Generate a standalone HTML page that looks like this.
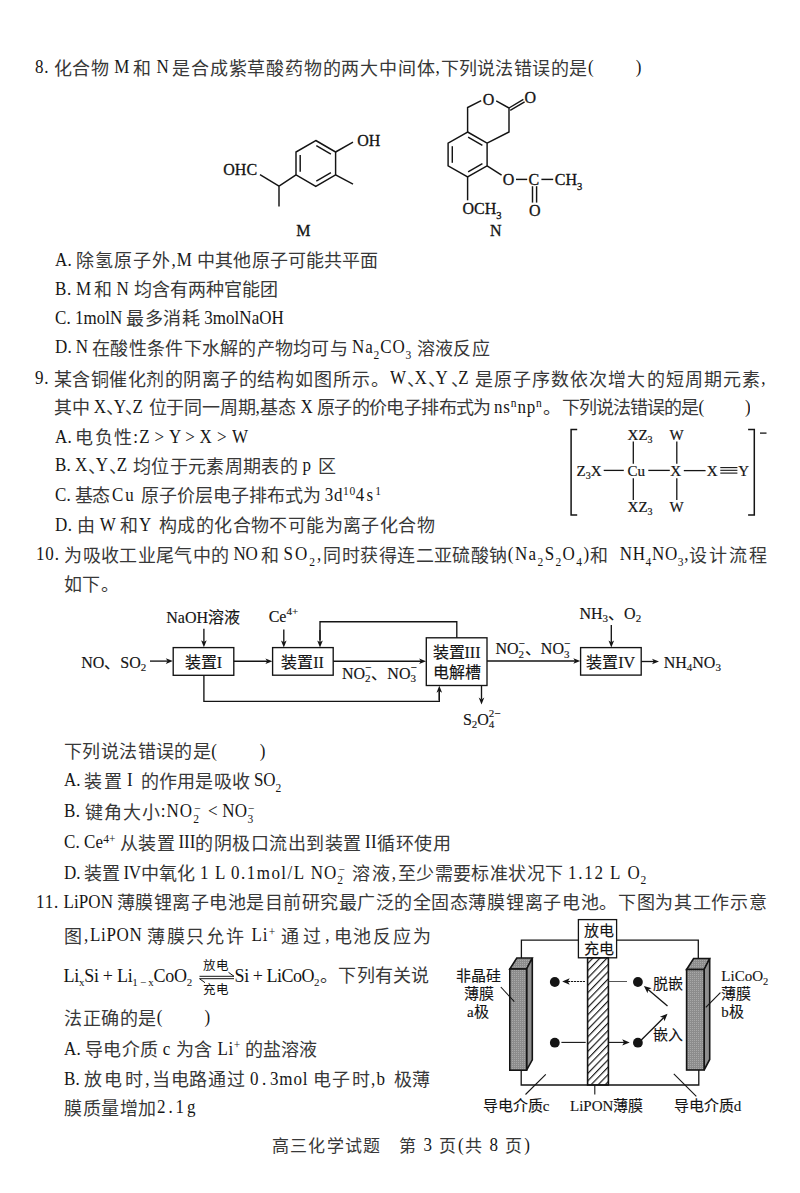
<!DOCTYPE html>
<html lang="zh-CN">
<head>
<meta charset="utf-8">
<style>
html,body{margin:0;padding:0;background:#fff;}
body{width:800px;height:1193px;position:relative;overflow:hidden;font-family:"Liberation Serif",serif;color:#383838;}
.t{position:absolute;white-space:nowrap;font-size:18px;line-height:20px;word-spacing:-0.8px;margin-top:-15.0px;}
.l{font-size:17.0px;position:relative;top:-1.5px;color:#161616;display:inline-block;line-height:20px;transform:scaleY(1.12);transform-origin:0 15.74px;}
sub,sup{color:#161616;}
.ss{margin-left:-5.6px;margin-right:1.5px;}
.d{letter-spacing:-10.5px;}
.rn{margin:0 0 0 3px;}
sub,sup{font-size:11.5px;line-height:0;position:relative;vertical-align:baseline;}
sub{top:4px;}
sup{top:-7px;}
svg{position:absolute;left:0;top:0;}
</style>
</head>
<body>
<div class="t" style="left:35px;top:73.5px;"><span class="sg" style="letter-spacing:0.741px"><span class="l">8.</span> 化合物 </span><span class="sg" style="letter-spacing:-0.064px"><span class="l">M</span> </span><span class="sg" style="letter-spacing:0.873px">和 </span><span class="sg" style="letter-spacing:-0.092px"><span class="l">N</span> </span><span class="sg" style="letter-spacing:0.810px">是合成紫草酸药物的两大中间体<span class="l">,</span></span><span class="sg" style="letter-spacing:0.275px">下列说法</span><span class="sg" style="letter-spacing:0.580px">错误的是<span class="l">(</span><span class="gap" style="display:inline-block;width:41.50px"></span><span class="l">)</span></span></div>
<div class="t" style="left:55px;top:266.4px;"><span class="sg" style="letter-spacing:0.219px"><span class="l">A.</span> </span><span class="sg" style="letter-spacing:1.114px">除氢原子外<span class="l">,</span></span><span class="sg" style="letter-spacing:0.811px"><span class="l">M</span> </span><span class="sg" style="letter-spacing:0.121px">中其他原子可能共平面</span></div>
<div class="t" style="left:55px;top:295.3px;"><span class="sg" style="letter-spacing:0.630px"><span class="l">B.</span> </span><span class="sg" style="letter-spacing:-0.368px"><span class="l">M</span> </span><span class="sg" style="letter-spacing:0.248px">和 </span><span class="sg" style="letter-spacing:1.033px"><span class="l">N</span> </span><span class="sg" style="letter-spacing:-0.023px">均含有两种官能团</span></div>
<div class="t" style="left:55px;top:324.2px;"><span class="sg" style="letter-spacing:0.229px"><span class="l">C.</span> </span><span class="sg" style="letter-spacing:0.061px"><span class="l">1molN</span> </span><span class="sg" style="letter-spacing:0.469px">最多消耗 </span><span class="sg" style="letter-spacing:0.046px"><span class="l">3molNaOH</span></span></div>
<div class="t" style="left:55px;top:353.6px;"><span class="sg" style="letter-spacing:0.203px"><span class="l">D.</span> </span><span class="sg" style="letter-spacing:0.179px"><span class="l">N</span> </span><span class="sg" style="letter-spacing:0.280px">在酸性条件下水解的产物均可与 </span><span class="sg" style="letter-spacing:0.862px"><span class="l">Na</span><sub>2</sub><span class="l">CO</span><sub>3</sub> </span><span class="sg" style="letter-spacing:0.299px">溶液反应</span></div>
<div class="t" style="left:35px;top:384.5px;"><span class="sg" style="letter-spacing:0.776px"><span class="l">9.</span> </span><span class="sg" style="letter-spacing:0.491px">某含铜催化剂的阴离子的</span><span class="sg" style="letter-spacing:0.984px">结构如图所示。</span><span class="sg" style="letter-spacing:0.953px"><span class="l">W</span><span class="d">、</span></span><span class="sg" style="letter-spacing:1.219px"><span class="l">X</span><span class="d">、</span></span><span class="sg" style="letter-spacing:2.969px"><span class="l">Y</span><span class="d">、</span></span><span class="sg" style="letter-spacing:1.124px"><span class="l">Z</span> </span><span class="sg" style="letter-spacing:1.103px">是原子序数依次增大的短周期元素<span class="l">,</span></span></div>
<div class="t" style="left:54px;top:413.4px;"><span class="sg" style="letter-spacing:-0.005px">其中 </span><span class="sg" style="letter-spacing:0.313px"><span class="l">X</span><span class="d">、</span></span><span class="sg" style="letter-spacing:-0.985px"><span class="l">Y</span><span class="d">、</span></span><span class="sg" style="letter-spacing:0.999px"><span class="l">Z</span> </span><span class="sg" style="letter-spacing:-0.195px">位于同一周期<span class="l">,</span></span><span class="sg" style="letter-spacing:0.365px">基态 </span><span class="sg" style="letter-spacing:0.158px"><span class="l">X</span> </span><span class="sg" style="letter-spacing:-0.583px">原子的价电子排布式为 </span><span class="sg" style="letter-spacing:0.849px"><span class="l">ns</span><sup>n</sup><span class="l">np</span><sup>n</sup>。</span><span class="sg" style="letter-spacing:-0.891px">下列说法错误的是<span class="l">(</span><span class="gap" style="display:inline-block;width:41.77px"></span><span class="l">)</span></span></div>
<div class="t" style="left:55px;top:443px;"><span class="sg" style="letter-spacing:0.099px"><span class="l">A.</span> </span><span class="sg" style="letter-spacing:1.266px">电负性<span class="l">:</span></span><span class="sg" style="letter-spacing:0.656px"><span class="l">Z &gt;</span> </span><span class="sg" style="letter-spacing:0.552px"><span class="l">Y &gt;</span> </span><span class="sg" style="letter-spacing:0.842px"><span class="l">X &gt;</span> </span><span class="sg" style="letter-spacing:0.500px"><span class="l">W</span></span></div>
<div class="t" style="left:55px;top:471.7px;"><span class="sg" style="letter-spacing:0.229px"><span class="l">B.</span> </span><span class="sg" style="letter-spacing:1.153px"><span class="l">X</span><span class="d">、</span><span class="l">Y</span><span class="d">、</span><span class="l">Z</span> </span><span class="sg" style="letter-spacing:0.325px">均位于元素周期表</span><span class="sg" style="letter-spacing:0.498px">的 </span><span class="sg" style="letter-spacing:1.615px"><span class="l">p</span> </span><span class="sg" style="letter-spacing:0.500px">区</span></div>
<div class="t" style="left:55px;top:501.3px;"><span class="sg" style="letter-spacing:0.245px"><span class="l">C.</span> </span><span class="sg" style="letter-spacing:-0.885px">基态 </span><span class="sg" style="letter-spacing:1.964px"><span class="l">Cu</span> </span><span class="sg" style="letter-spacing:-0.032px">原子价层电子排布式为 </span><span class="sg" style="letter-spacing:0.608px"><span class="l">3d</span><sup>10</sup></span><span class="sg" style="letter-spacing:2.183px"><span class="l">4s</span><sup>1</sup></span></div>
<div class="t" style="left:55px;top:531.4px;"><span class="sg" style="letter-spacing:0.521px"><span class="l">D.</span> </span><span class="sg" style="letter-spacing:0.673px">由 </span><span class="sg" style="letter-spacing:0.039px"><span class="l">W</span> </span><span class="sg" style="letter-spacing:-1.102px">和 </span><span class="sg" style="letter-spacing:1.929px"><span class="l">Y</span> </span><span class="sg" style="letter-spacing:0.400px">构成的化合物不可能为离子化合物</span></div>
<div class="t" style="left:36px;top:560.6px;"><span class="sg" style="letter-spacing:0.831px"><span class="l">10.</span> </span><span class="sg" style="letter-spacing:0.359px">为吸收工业尾气中的 </span><span class="sg" style="letter-spacing:-0.156px"><span class="l">NO</span> </span><span class="sg" style="letter-spacing:0.248px">和 </span><span class="sg" style="letter-spacing:1.983px"><span class="l">SO</span><sub>2</sub><span class="l">,</span></span><span class="sg" style="letter-spacing:0.470px">同时获得连二亚硫酸钠</span><span class="sg" style="letter-spacing:1.379px"><span class="l">(Na</span><sub>2</sub><span class="l">S</span><sub>2</sub><span class="l">O</span><sub>4</sub><span class="l">)</span></span><span class="sg" style="letter-spacing:3.773px">和 </span><span class="sg" style="letter-spacing:0.652px"><span class="l">NH</span><sub>4</sub><span class="l">NO</span><sub>3</sub><span class="l">,</span></span><span class="sg" style="letter-spacing:2.030px">设计流程</span></div>
<div class="t" style="left:64px;top:590px;"><span class="sg" style="letter-spacing:0.397px">如下。</span></div>
<div class="t" style="left:64px;top:757px;"><span class="sg" style="letter-spacing:0.402px">下列说法错误的是<span class="l">(</span><span class="gap" style="display:inline-block;width:42.52px"></span><span class="l">)</span></span></div>
<div class="t" style="left:64px;top:786.7px;"><span class="sg" style="letter-spacing:-0.151px"><span class="l">A.</span> </span><span class="sg" style="letter-spacing:2.092px">装置</span><span class="sg" style="letter-spacing:8.031px"><span class="l rn">I</span></span><span class="sg" style="letter-spacing:0.242px">的作用是吸收 </span><span class="sg" style="letter-spacing:-0.175px"><span class="l">SO</span><sub>2</sub></span></div>
<div class="t" style="left:64px;top:817.7px;"><span class="sg" style="letter-spacing:0.464px"><span class="l">B.</span> </span><span class="sg" style="letter-spacing:1.032px">键角大小<span class="l">:</span></span><span class="sg" style="letter-spacing:1.034px"><span class="l">NO</span><sub>2</sub><sup class="ss">−</sup> </span><span class="sg" style="letter-spacing:0.352px"><span class="l">&lt;</span> </span><span class="sg" style="letter-spacing:0.362px"><span class="l">NO</span><sub>3</sub><sup class="ss">−</sup></span></div>
<div class="t" style="left:64px;top:848.9px;"><span class="sg" style="letter-spacing:0.266px"><span class="l">C.</span> </span><span class="sg" style="letter-spacing:0.152px"><span class="l">Ce</span><sup>4+</sup> </span><span class="sg" style="letter-spacing:0.630px">从装置</span><span class="sg" style="letter-spacing:-0.062px"><span class="l rn">III</span></span><span class="sg" style="letter-spacing:0.511px">的阴极口流出到装置<span class="l rn">II</span>循环使用</span></div>
<div class="t" style="left:64px;top:879px;"><span class="sg" style="letter-spacing:-0.151px"><span class="l">D.</span> </span><span class="sg" style="letter-spacing:0.342px">装置</span><span class="sg" style="letter-spacing:-0.377px"><span class="l rn">IV</span></span><span class="sg" style="letter-spacing:0.449px">中氧化 </span><span class="sg" style="letter-spacing:1.398px"><span class="l">1</span> </span><span class="sg" style="letter-spacing:0.953px"><span class="l">L</span> </span><span class="sg" style="letter-spacing:1.459px"><span class="l">0.1mol/L</span> </span><span class="sg" style="letter-spacing:1.027px"><span class="l">NO</span><sub>2</sub><sup class="ss">−</sup> </span><span class="sg" style="letter-spacing:1.750px">溶液<span class="l">,</span></span><span class="sg" style="letter-spacing:0.411px">至少需要标准状况</span><span class="sg" style="letter-spacing:0.648px">下 </span><span class="sg" style="letter-spacing:1.709px"><span class="l">1.12</span> </span><span class="sg" style="letter-spacing:1.703px"><span class="l">L</span> </span><span class="sg" style="letter-spacing:0.500px"><span class="l">O</span><sub>2</sub></span></div>
<div class="t" style="left:36px;top:908px;"><span class="sg" style="letter-spacing:0.841px"><span class="l">11.</span> </span><span class="sg" style="letter-spacing:0.046px"><span class="l">LiPON</span> </span><span class="sg" style="letter-spacing:0.513px">薄膜锂离子电池是目前研究最广泛的全固态</span><span class="sg" style="letter-spacing:0.690px">薄膜锂离子电池。下图为其工作示意</span></div>
<div class="t" style="left:64px;top:941.9px;"><span class="sg" style="letter-spacing:1.921px">图<span class="l">,</span></span><span class="sg" style="letter-spacing:0.627px"><span class="l">LiPON</span> </span><span class="sg" style="letter-spacing:1.832px">薄膜只允许 </span><span class="sg" style="letter-spacing:1.097px"><span class="l">Li</span><sup>+</sup> </span><span class="sg" style="letter-spacing:4.083px">通过<span class="l">,</span></span><span class="sg" style="letter-spacing:1.800px">电池反应为</span></div>
<div class="t" style="left:64px;top:1023.5px;"><span class="sg" style="letter-spacing:0.564px">法正确的是<span class="l">(</span><span class="gap" style="display:inline-block;width:41.36px"></span><span class="l">)</span></span></div>
<div class="t" style="left:64px;top:1055px;"><span class="sg" style="letter-spacing:0.151px"><span class="l">A.</span> </span><span class="sg" style="letter-spacing:0.488px">导电介质 </span><span class="sg" style="letter-spacing:0.788px"><span class="l">c</span> </span><span class="sg" style="letter-spacing:0.729px">为含 </span><span class="sg" style="letter-spacing:0.597px"><span class="l">Li</span><sup>+</sup> </span><span class="sg" style="letter-spacing:-0.138px">的盐溶液</span></div>
<div class="t" style="left:64px;top:1085px;"><span class="sg" style="letter-spacing:0.162px"><span class="l">B.</span> </span><span class="sg" style="letter-spacing:2.500px">放电时<span class="l">,</span></span><span class="sg" style="letter-spacing:0.707px">当电路通过 </span><span class="sg" style="letter-spacing:3.671px"><span class="l">0.</span></span><span class="sg" style="letter-spacing:0.848px"><span class="l">3mol</span> </span><span class="sg" style="letter-spacing:1.334px">电子时<span class="l">,</span></span><span class="sg" style="letter-spacing:2.490px"><span class="l">b</span> </span><span class="sg" style="letter-spacing:0.391px">极</span><span class="sg" style="letter-spacing:0.500px">薄</span></div>
<div class="t" style="left:64px;top:1113.7px;"><span class="sg" style="letter-spacing:0.600px">膜质量增加</span><span class="sg" style="letter-spacing:2.882px"><span class="l">2.1g</span></span></div>
<div class="t" style="left:272px;top:1152.2px;font-size:17px"><span class="sg" style="letter-spacing:1.171px">高三化学试题　</span><span class="sg" style="letter-spacing:1.855px">第 <span class="l">3</span> 页<span class="l">(</span>共 <span class="l">8</span> 页<span class="l">)</span></span></div>
<svg width="800" height="1193" viewBox="0 0 800 1193" style="font-family:'Liberation Serif',serif">
<g stroke="#141414" stroke-width="1.45" fill="none" stroke-linecap="butt">
<!-- M -->
<polygon points="315.8,140.5 335.6,152 335.6,174.8 315.8,186.3 296,174.8 296,152"/>
<line x1="316.3" y1="145.6" x2="330.9" y2="154.1"/>
<line x1="300.2" y1="171.8" x2="300.2" y2="155"/>
<line x1="330.9" y1="172.7" x2="316.3" y2="181.2"/>
<line x1="335.6" y1="152" x2="353" y2="142.2"/>
<line x1="335.6" y1="174.8" x2="353" y2="184.2"/>
<polyline points="296,174.8 279,186.2 279,206.5"/>
<line x1="279" y1="186.2" x2="260" y2="174.6"/>
<!-- N -->
<polygon points="467.6,132 487.1,143.2 487.1,165.8 467.6,177 448.1,165.8 448.1,143.2"/>
<line x1="468.1" y1="137.1" x2="482.4" y2="145.4"/>
<line x1="452.3" y1="162.8" x2="452.3" y2="146.2"/>
<line x1="482.4" y1="163.6" x2="468.1" y2="171.9"/>
<polyline points="467.6,132 467.6,107.5 481.2,100.6"/>
<polyline points="496.2,100.9 509,108 509,132 487.1,143.2"/>
<line x1="509" y1="108" x2="523.4" y2="99.4"/>
<line x1="510.2" y1="110.3" x2="524.6" y2="101.9"/>
<line x1="487.1" y1="165.8" x2="501.6" y2="175.2"/>
<line x1="516" y1="179.4" x2="527.2" y2="179.4"/>
<line x1="541.4" y1="179.4" x2="553.2" y2="179.4"/>
<line x1="532.5" y1="186.2" x2="532.5" y2="202.6"/>
<line x1="536.6" y1="186.2" x2="536.6" y2="202.6"/>
<line x1="467.6" y1="177" x2="467.6" y2="200.3"/>
</g>
<g fill="#141414" font-size="16" stroke="#141414" stroke-width="0.3">
<text x="223.3" y="174.9">OHC</text>
<text x="357.3" y="145.6">OH</text>
<text x="296.2" y="235.6">M</text>
<text x="482.8" y="104.6">O</text>
<text x="524.6" y="102.6">O</text>
<text x="502.7" y="184.8">O</text>
<text x="528.5" y="184.8">C</text>
<text x="554.8" y="184.8">CH<tspan font-size="10.5" dy="5">3</tspan></text>
<text x="529" y="215.8">O</text>
<text x="462.5" y="214.4">OCH<tspan font-size="10.5" dy="5">3</tspan></text>
<text x="490" y="235.7">N</text>
</g>


<g stroke="#141414" stroke-width="1.3" fill="none">
<path d="M577.2,429.6 H571.1 V514.9 H577.2" stroke-width="1.5"/>
<path d="M748.1,429.4 H754.3 V514.9 H748.1" stroke-width="1.5"/>
<line x1="760.00" y1="433.10" x2="766.50" y2="433.10"/>
<line x1="603.70" y1="470.40" x2="623.80" y2="470.40"/>
<line x1="648.30" y1="470.40" x2="669.80" y2="470.40"/>
<line x1="683.80" y1="470.60" x2="705.60" y2="470.60"/>
<line x1="720.30" y1="467.60" x2="737.40" y2="467.60" stroke-width="1.1"/>
<line x1="720.30" y1="470.30" x2="737.40" y2="470.30" stroke-width="1.1"/>
<line x1="720.30" y1="473.10" x2="737.40" y2="473.10" stroke-width="1.1"/>
<line x1="633.30" y1="441.50" x2="633.30" y2="463.70"/>
<line x1="633.30" y1="478.30" x2="633.30" y2="500.00"/>
<line x1="676.80" y1="441.50" x2="676.80" y2="463.70"/>
<line x1="676.80" y1="478.30" x2="676.80" y2="500.00"/>
</g>
<g fill="#141414" font-size="15" stroke="#141414" stroke-width="0.2">
<text x="627.6" y="439.8">XZ<tspan font-size="10" dy="3">3</tspan></text>
<text x="669.6" y="439.8">W</text>
<text x="576.6" y="475.7">Z<tspan font-size="10" dy="3">3</tspan><tspan dy="-3">X</tspan></text>
<text x="627.6" y="475.7">Cu</text>
<text x="670.3" y="475.7">X</text>
<text x="706.8" y="475.7">X</text>
<text x="738.3" y="475.7">Y</text>
<text x="627.6" y="511.7">XZ<tspan font-size="10" dy="3">3</tspan></text>
<text x="669.6" y="511.7">W</text>
</g>
<g stroke="#141414" stroke-width="1.35" fill="none">
<rect x="173.2" y="647.6" width="60.6" height="27.7"/>
<rect x="272.6" y="647.6" width="60.6" height="27.6"/>
<rect x="426.3" y="637.8" width="60.7" height="47.7"/>
<rect x="580.6" y="647.6" width="60.6" height="27.5"/>
<polyline points="203.9,675.3 203.9,701.3 439.3,701.3 439.3,692"/>
<polyline points="320,640 320,621.7 456.8,621.7 456.8,637.8"/>
</g>
<line x1="203.90" y1="628.80" x2="203.90" y2="642.30" stroke="#141414" stroke-width="1.35"/><path d="M203.90,647.30 L201.10,640.30 L203.90,642.10 L206.70,640.30 Z" fill="#141414" stroke="none"/>
<line x1="150.00" y1="661.10" x2="167.80" y2="661.10" stroke="#141414" stroke-width="1.35"/><path d="M172.80,661.10 L165.80,663.90 L167.60,661.10 L165.80,658.30 Z" fill="#141414" stroke="none"/>
<line x1="233.80" y1="661.20" x2="267.40" y2="661.20" stroke="#141414" stroke-width="1.35"/><path d="M272.40,661.20 L265.40,664.00 L267.20,661.20 L265.40,658.40 Z" fill="#141414" stroke="none"/>
<line x1="283.80" y1="629.50" x2="283.80" y2="642.40" stroke="#141414" stroke-width="1.35"/><path d="M283.80,647.40 L281.00,640.40 L283.80,642.20 L286.60,640.40 Z" fill="#141414" stroke="none"/>
<line x1="320.00" y1="630.00" x2="320.00" y2="642.40" stroke="#141414" stroke-width="1.35"/><path d="M320.00,647.40 L317.20,640.40 L320.00,642.20 L322.80,640.40 Z" fill="#141414" stroke="none"/>
<line x1="333.20" y1="661.20" x2="421.10" y2="661.20" stroke="#141414" stroke-width="1.35"/><path d="M426.10,661.20 L419.10,664.00 L420.90,661.20 L419.10,658.40 Z" fill="#141414" stroke="none"/>
<line x1="439.30" y1="700.00" x2="439.30" y2="690.80" stroke="#141414" stroke-width="1.35"/><path d="M439.30,685.80 L442.10,692.80 L439.30,691.00 L436.50,692.80 Z" fill="#141414" stroke="none"/>
<line x1="481.50" y1="685.50" x2="481.50" y2="699.60" stroke="#141414" stroke-width="1.35"/><path d="M481.50,704.60 L478.70,697.60 L481.50,699.40 L484.30,697.60 Z" fill="#141414" stroke="none"/>
<line x1="487.00" y1="661.00" x2="575.30" y2="661.00" stroke="#141414" stroke-width="1.35"/><path d="M580.30,661.00 L573.30,663.80 L575.10,661.00 L573.30,658.20 Z" fill="#141414" stroke="none"/>
<line x1="611.30" y1="625.00" x2="611.30" y2="642.40" stroke="#141414" stroke-width="1.35"/><path d="M611.30,647.40 L608.50,640.40 L611.30,642.20 L614.10,640.40 Z" fill="#141414" stroke="none"/>
<line x1="641.20" y1="661.50" x2="654.00" y2="661.50" stroke="#141414" stroke-width="1.35"/><path d="M659.00,661.50 L652.00,664.30 L653.80,661.50 L652.00,658.70 Z" fill="#141414" stroke="none"/>
<g fill="#141414" font-size="16" stroke="#141414" stroke-width="0.15">
<text x="166.3" y="622.5">NaOH溶液</text>
<text x="81.2" y="667.5">NO、SO<tspan font-size="11" dy="3.5">2</tspan></text>
<text x="184.8" y="667.5">装置I</text>
<text x="268.7" y="622">Ce<tspan font-size="11" dy="-7">4+</tspan></text>
<text x="281.2" y="667.5">装置II</text>
<text x="342" y="678.7">NO<tspan font-size="11" dy="3.5">2</tspan><tspan font-size="11" dx="-5.5" dy="-11">−</tspan><tspan dy="7.5">、NO</tspan><tspan font-size="11" dy="3.5">3</tspan><tspan font-size="11" dx="-5.5" dy="-11">−</tspan></text>
<text x="432.5" y="658">装置III</text>
<text x="433.3" y="677.6">电解槽</text>
<text x="462.9" y="724.9">S<tspan font-size="11" dy="3.5">2</tspan><tspan dy="-3.5">O</tspan><tspan font-size="11" dy="3.5">4</tspan><tspan font-size="11" dx="-5.5" dy="-11">2−</tspan></text>
<text x="495.5" y="654">NO<tspan font-size="11" dy="3.5">2</tspan><tspan font-size="11" dx="-5.5" dy="-11">−</tspan><tspan dy="7.5">、NO</tspan><tspan font-size="11" dy="3.5">3</tspan><tspan font-size="11" dx="-5.5" dy="-11">−</tspan></text>
<text x="586.2" y="667.5">装置IV</text>
<text x="579.5" y="618.7">NH<tspan font-size="11" dy="3.5">3</tspan><tspan dy="-3.5">、O</tspan><tspan font-size="11" dy="3.5">2</tspan></text>
<text x="663.7" y="667.5">NH<tspan font-size="11" dy="3.5">4</tspan><tspan dy="-3.5">NO</tspan><tspan font-size="11" dy="3.5">3</tspan></text>
</g>
<defs><pattern id="hatch" patternUnits="userSpaceOnUse" width="5.1" height="5.1" patternTransform="rotate(44 0 0)"><line x1="0.6" y1="0" x2="0.6" y2="5.1" stroke="#141414" stroke-width="1.15"/></pattern>
<pattern id="dots" patternUnits="userSpaceOnUse" width="2" height="2"><rect width="2" height="2" fill="#8c8c8c"/><rect width="1" height="1" fill="#a8a8a8"/></pattern></defs>
<g stroke="#141414" stroke-width="1.3" fill="none">
<polyline points="521.4,958.2 521.4,940.2 578.4,940.2"/>
<polyline points="616.6,940.2 698.3,940.2 698.3,958.2"/>
<polyline points="521.2,1070 521.2,1085 698.8,1085 698.8,1070"/>
<rect x="578.4" y="919.6" width="38.2" height="38.2" fill="#fff"/>
<rect x="587.6" y="957.8" width="20.8" height="127.2" fill="url(#hatch)" stroke-width="1.6"/>
</g>
<g stroke="#141414" stroke-width="1.6" stroke-linejoin="miter"><path d="M509.8,969.0 L516.8,958.0 L532.3,958.0 L526.6,969.0 Z" fill="url(#dots)"/><path d="M526.6,969.0 L532.3,958.0 L532.3,1059.8 L526.6,1070.2 Z" fill="#8e8e8e"/><rect x="509.8" y="969.0" width="16.8" height="101.2" fill="url(#dots)"/></g>
<g stroke="#141414" stroke-width="1.6" stroke-linejoin="miter"><path d="M686.6,969.5 L693.6,958.5 L709.7,958.5 L704.1,969.5 Z" fill="url(#dots)"/><path d="M704.1,969.5 L709.7,958.5 L709.7,1059.5 L704.1,1070.0 Z" fill="#8e8e8e"/><rect x="686.6" y="969.5" width="17.5" height="100.5" fill="url(#dots)"/></g>
<circle cx="554.8" cy="982.0" r="4.9" fill="#141414"/>
<circle cx="637.9" cy="982.0" r="4.9" fill="#141414"/>
<circle cx="554.8" cy="1042.7" r="4.9" fill="#141414"/>
<circle cx="637.9" cy="1042.7" r="4.9" fill="#141414"/>
<g stroke="#141414" stroke-width="1.1">
<line x1="608.7" y1="981.5" x2="627" y2="981.5" stroke="#555" stroke-width="1"/>
<line x1="561.40" y1="1042.40" x2="585.70" y2="1042.40"/>
<line x1="500.80" y1="987.00" x2="514.30" y2="1001.60"/>
<line x1="705.80" y1="1007.30" x2="720.40" y2="992.60"/>
<line x1="594.80" y1="1085.00" x2="594.80" y2="1094.50"/>
<line x1="545.80" y1="1074.30" x2="525.50" y2="1094.50"/>
<line x1="673.80" y1="1073.80" x2="696.30" y2="1096.30"/>
</g>
<line x1="585" y1="981.5" x2="567" y2="981.5" stroke="#141414" stroke-width="1" stroke-dasharray="2.2 0.8"/>
<path d="M562.20,981.50 L569.70,978.30 L567.90,981.50 L569.70,984.70 Z" fill="#141414" stroke="none"/>
<line x1="608.70" y1="1042.40" x2="624.20" y2="1042.40" stroke="#141414" stroke-width="1.1"/><path d="M629.70,1042.40 L622.20,1045.60 L624.00,1042.40 L622.20,1039.20 Z" fill="#141414" stroke="none"/>
<line x1="667.50" y1="1006.10" x2="648.08" y2="989.48" stroke="#141414" stroke-width="1.3"/><path d="M643.90,985.90 L651.68,988.35 L648.23,989.61 L647.52,993.21 Z" fill="#141414" stroke="none"/>
<line x1="641.30" y1="1040.00" x2="663.61" y2="1017.69" stroke="#141414" stroke-width="1.3"/><path d="M667.50,1013.80 L664.46,1021.37 L663.47,1017.83 L659.93,1016.84 Z" fill="#141414" stroke="none"/>
<g fill="#141414" font-size="15" stroke="#141414" stroke-width="0.12">
<text x="583.5" y="936.4">放电</text>
<text x="583.5" y="954.4">充电</text>
<text x="455.5" y="981.4">非晶硅</text>
<text x="464.2" y="999.4">薄膜</text>
<text x="467" y="1017.4">a极</text>
<text x="721.3" y="981.4">LiCoO<tspan font-size="10.5" dy="3.5">2</tspan></text>
<text x="721.3" y="999.4">薄膜</text>
<text x="721.3" y="1017.4">b极</text>
<text x="653.3" y="989.2">脱嵌</text>
<text x="653" y="1040">嵌入</text>
<text x="482.7" y="1111.3">导电介质c</text>
<text x="570" y="1111">LiPON薄膜</text>
<text x="673.7" y="1110.5">导电介质d</text>
</g>
<g fill="#141414" font-size="18">
<text x="63.6" y="982.4" textLength="128.6" lengthAdjust="spacing">Li<tspan font-size="11" dy="4">x</tspan><tspan dy="-4">Si + Li</tspan><tspan font-size="11" dy="4">1 − x</tspan><tspan dy="-4">CoO</tspan><tspan font-size="11" dy="4">2</tspan></text>
<text x="234.6" y="982.4" textLength="85" lengthAdjust="spacing">Si + LiCoO<tspan font-size="11" dy="4">2</tspan></text>
<text x="320" y="982.4" letter-spacing="0.3" fill="#383838">。下列有关说</text>
<text x="203.4" y="970" font-size="12.5">放电</text>
<text x="203.4" y="993.6" font-size="12.5">充电</text>
</g>
<g stroke="#141414" stroke-width="1" fill="none">
<path d="M199.5,976.3 H234 L228.5,972.3"/>
<path d="M234,978.7 H199.5 L205,982.7"/>
</g>
</svg>
</body>
</html>
